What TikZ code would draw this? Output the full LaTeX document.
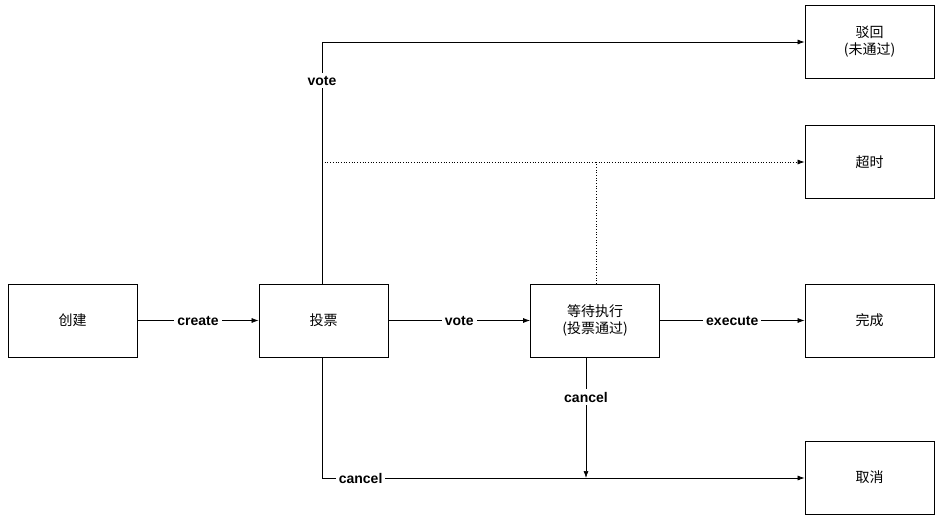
\documentclass[tikz,border=0pt]{standalone}
\usepackage{fontspec}
\setmainfont{Liberation Sans}
\newfontfamily\cjk{Noto Sans CJK SC}
\usetikzlibrary{arrows.meta}
\begin{document}
\begin{tikzpicture}[x=1pt,y=-1pt,
  box/.style={draw,line width=0.8pt,minimum width=129pt,minimum height=73pt,font=\cjk\fontsize{14}{17}\selectfont,align=center,inner sep=0pt},
  lab/.style={fill=white,font=\bfseries\fontsize{14}{16}\selectfont,inner sep=3pt},
  arr/.style={line width=0.7pt,-{Latex[length=7pt,width=5pt]}},
  dot/.style={line width=0.7pt,dotted,-{Latex[length=7pt,width=5pt]}}]
\useasboundingbox (0,0) rectangle (943,519);
\node[box] (cj) at (72.5,320.5) {创建};
\node[box] (tp) at (323.5,320.5) {投票};
\node[box] (dd) at (595,320.5) {等待执行\\(投票通过)};
\node[box] (wc) at (869.5,320.5) {完成};
\node[box] (bh) at (869.5,41.5) {驳回\\(未通过)};
\node[box] (cs) at (869.5,162) {超时};
\node[box] (qx) at (869.5,477.5) {取消};
\coordinate (a1) at (322,42);
\coordinate (a2) at (322,162);
\coordinate (a3) at (596,162);
\coordinate (a4) at (322,478);
\coordinate (a5) at (586,478);
\draw[arr] (cj) -- node[lab]{create} (tp);
\draw[arr] (tp) -- node[lab]{vote} (dd);
\draw[arr] (dd) -- node[lab]{execute} (wc);
\draw[arr] (tp.north -| a1) -- node[lab,pos=0.84]{vote} (a1) -- (bh.west |- a1);
\draw[line width=0.7pt,dotted] (a2) -- (a3);
\draw[dot] (dd.north -| a3) -- (a3) -- (cs.west |- a3);
\draw[arr] (tp.south -| a4) -- (a4) -- node[lab,pos=0.08]{cancel} (qx.west |- a4);
\draw[arr] (dd.south -| a5) -- node[lab,pos=0.33]{cancel} (a5);
\end{tikzpicture}
\end{document}
